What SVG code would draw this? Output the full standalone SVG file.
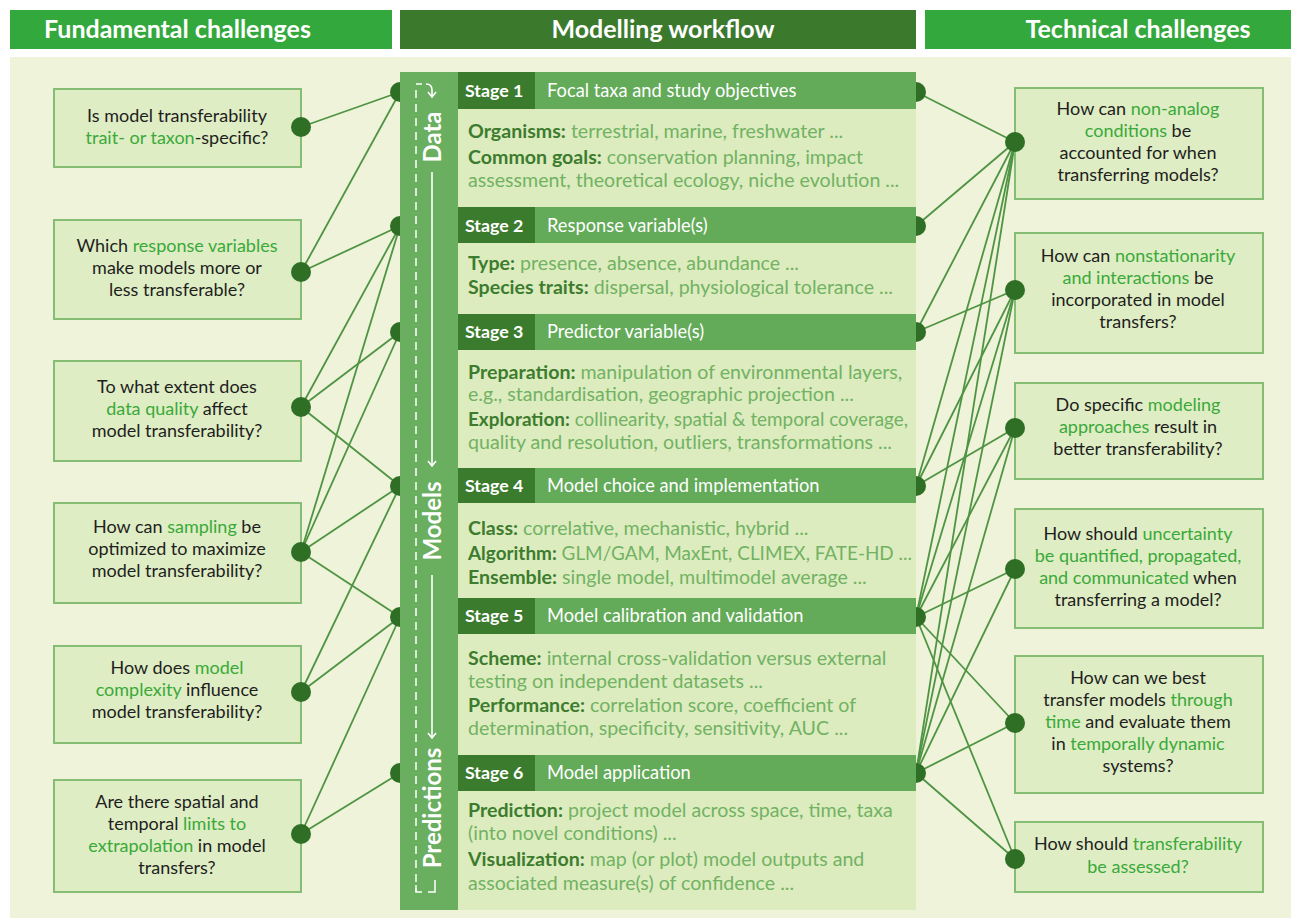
<svg xmlns="http://www.w3.org/2000/svg" width="1301" height="921" viewBox="0 0 1301 921">
<style>
text{font-family:Lato,"Liberation Sans",sans-serif}
.hdr{font-size:25px;font-weight:bold;fill:#fff}
.q{font-size:18px;fill:#1e1e1e;text-anchor:middle}
.g{fill:#3aa93a}
.box{fill:#deedc3;stroke:#86bd74;stroke-width:2}
.sl{fill:#3b7b2d}
.sh{fill:#63aa59}
.st{font-size:17.8px;font-weight:bold;fill:#fff}
.tt{font-size:18.3px;fill:#fff}
.body{fill:#dcecbe}
.bt{font-size:19.6px;fill:#72b264}
.b{font-weight:bold;fill:#3d7c2f}
.cn line{stroke:#4f9443;stroke-width:1.8}
.dot{fill:#2f6f25}
.col{fill:#6aae5f}
.vt{font-size:24px;font-weight:bold;fill:#fff;text-anchor:middle}
</style>
<defs>
<marker id="ahd" markerWidth="10" markerHeight="10" refX="5" refY="7" orient="0" markerUnits="userSpaceOnUse">
<path d="M1,2 L5,7 L9,2" fill="none" stroke="#fff" stroke-width="1.6"/>
</marker>
</defs>
<rect width="1301" height="921" fill="#ffffff"/>
<!-- headers -->
<g id="header-left"><rect x="10" y="10" width="382" height="39" fill="#33a83c"/><text class="hdr" x="44" y="38">Fundamental challenges</text></g>
<g id="header-mid"><rect x="400" y="10" width="516" height="39" fill="#3b7a2c"/><text class="hdr" x="663" y="38" text-anchor="middle">Modelling workflow</text></g>
<g id="header-right"><rect x="925" y="10" width="366" height="39" fill="#33a83c"/><text class="hdr" x="1138" y="38" text-anchor="middle">Technical challenges</text></g>
<rect x="10" y="57" width="1281" height="861" fill="#eef3d9"/>

<!-- connectors -->
<g id="connectors" class="cn">
<line x1="301" y1="127" x2="400" y2="92"/>
<line x1="301" y1="272" x2="400" y2="92"/>
<line x1="301" y1="272" x2="400" y2="226"/>
<line x1="301" y1="407" x2="400" y2="226"/>
<line x1="301" y1="407" x2="400" y2="332"/>
<line x1="301" y1="407" x2="400" y2="486"/>
<line x1="301" y1="552" x2="400" y2="226"/>
<line x1="301" y1="552" x2="400" y2="332"/>
<line x1="301" y1="552" x2="400" y2="486"/>
<line x1="301" y1="552" x2="400" y2="617"/>
<line x1="301" y1="692" x2="400" y2="486"/>
<line x1="301" y1="692" x2="400" y2="617"/>
<line x1="301" y1="834" x2="400" y2="617"/>
<line x1="301" y1="834" x2="400" y2="773"/>

<line x1="916" y1="92" x2="1015" y2="142"/>
<line x1="916" y1="226" x2="1015" y2="142"/>
<line x1="916" y1="332" x2="1015" y2="142"/>
<line x1="916" y1="486" x2="1015" y2="142"/>
<line x1="916" y1="617" x2="1015" y2="142"/>
<line x1="916" y1="773" x2="1015" y2="142"/>
<line x1="916" y1="332" x2="1015" y2="290"/>
<line x1="916" y1="486" x2="1015" y2="290"/>
<line x1="916" y1="617" x2="1015" y2="290"/>
<line x1="916" y1="773" x2="1015" y2="290"/>
<line x1="916" y1="486" x2="1015" y2="428"/>
<line x1="916" y1="617" x2="1015" y2="428"/>
<line x1="916" y1="773" x2="1015" y2="428"/>
<line x1="916" y1="617" x2="1015" y2="569"/>
<line x1="916" y1="773" x2="1015" y2="569"/>
<line x1="916" y1="617" x2="1015" y2="723"/>
<line x1="916" y1="773" x2="1015" y2="723"/>
<line x1="916" y1="617" x2="1015" y2="859"/>
<line x1="916" y1="773" x2="1015" y2="859"/>
</g>
<!-- stage dots (partly behind column) -->
<g id="stage-dots">
<circle class="dot" cx="400" cy="92" r="10"/><circle class="dot" cx="400" cy="226" r="10"/><circle class="dot" cx="400" cy="332" r="10"/><circle class="dot" cx="400" cy="486" r="10"/><circle class="dot" cx="400" cy="617" r="10"/><circle class="dot" cx="400" cy="773" r="10"/>
<circle class="dot" cx="916" cy="92" r="10"/><circle class="dot" cx="916" cy="226" r="10"/><circle class="dot" cx="916" cy="332" r="10"/><circle class="dot" cx="916" cy="486" r="10"/><circle class="dot" cx="916" cy="617" r="10"/><circle class="dot" cx="916" cy="773" r="10"/>
</g>

<!-- workflow column -->
<g id="workflow-bar">
<rect class="col" x="400" y="72" width="58" height="838"/>
<line x1="416" y1="90" x2="416" y2="892" stroke="#fff" stroke-width="1.5" stroke-dasharray="8 6"/>
<path d="M416,84 L422,84" stroke="#fff" stroke-width="1.5" fill="none"/>
<path d="M426,84 Q432,84 432,90 L432,97" stroke="#fff" stroke-width="1.6" fill="none" marker-end="url(#ahd)"/>
<text class="vt" transform="translate(441,137) rotate(-90)">Data</text>
<line x1="432" y1="172" x2="432" y2="466" stroke="#fff" stroke-width="1.6" marker-end="url(#ahd)"/>
<text class="vt" transform="translate(441,521) rotate(-90)">Models</text>
<line x1="432" y1="575" x2="432" y2="738" stroke="#fff" stroke-width="1.6" marker-end="url(#ahd)"/>
<text class="vt" transform="translate(441,808) rotate(-90)">Predictions</text>
<path d="M416,885 L416,892 L422,892 M428,892 L435,892 L435,880" stroke="#fff" stroke-width="1.5" fill="none"/>
</g>

<g id="stage1">
<rect class="sh" x="458" y="72" width="458" height="37"/><rect class="sl" x="458" y="72" width="77" height="37"/>
<text class="st" x="465" y="97">Stage 1</text><text class="tt" x="547" y="97">Focal taxa and study objectives</text>
<rect class="body" x="458" y="109" width="458" height="98"/>
<text class="bt" x="468" y="138"><tspan class="b">Organisms:</tspan> terrestrial, marine, freshwater ...</text>
<text class="bt" x="468" y="164"><tspan class="b">Common goals:</tspan> conservation planning, impact</text>
<text class="bt" x="468" y="187">assessment, theoretical ecology, niche evolution ...</text>
</g>
<g id="stage2">
<rect class="sh" x="458" y="207" width="458" height="36"/><rect class="sl" x="458" y="207" width="77" height="36"/>
<text class="st" x="465" y="232">Stage 2</text><text class="tt" x="547" y="232">Response variable(s)</text>
<rect class="body" x="458" y="243" width="458" height="71"/>
<text class="bt" x="468" y="270"><tspan class="b">Type:</tspan> presence, absence, abundance ...</text>
<text class="bt" x="468" y="294"><tspan class="b">Species traits:</tspan> dispersal, physiological tolerance ...</text>
</g>
<g id="stage3">
<rect class="sh" x="458" y="314" width="458" height="36"/><rect class="sl" x="458" y="314" width="77" height="36"/>
<text class="st" x="465" y="338">Stage 3</text><text class="tt" x="547" y="338">Predictor variable(s)</text>
<rect class="body" x="458" y="350" width="458" height="118"/>
<text class="bt" x="468" y="379"><tspan class="b">Preparation:</tspan> manipulation of environmental layers,</text>
<text class="bt" x="468" y="401">e.g., standardisation, geographic projection ...</text>
<text class="bt" x="468" y="426" textLength="440" lengthAdjust="spacingAndGlyphs"><tspan class="b">Exploration:</tspan> collinearity, spatial &amp; temporal coverage,</text>
<text class="bt" x="468" y="449">quality and resolution, outliers, transformations ...</text>
</g>
<g id="stage4">
<rect class="sh" x="458" y="468" width="458" height="35"/><rect class="sl" x="458" y="468" width="77" height="35"/>
<text class="st" x="465" y="492">Stage 4</text><text class="tt" x="547" y="492">Model choice and implementation</text>
<rect class="body" x="458" y="503" width="458" height="95"/>
<text class="bt" x="468" y="535"><tspan class="b">Class:</tspan> correlative, mechanistic, hybrid ...</text>
<text class="bt" x="468" y="560" textLength="444" lengthAdjust="spacingAndGlyphs"><tspan class="b">Algorithm:</tspan> GLM/GAM, MaxEnt, CLIMEX, FATE-HD ...</text>
<text class="bt" x="468" y="584"><tspan class="b">Ensemble:</tspan> single model, multimodel average ...</text>
</g>
<g id="stage5">
<rect class="sh" x="458" y="598" width="458" height="36"/><rect class="sl" x="458" y="598" width="77" height="36"/>
<text class="st" x="465" y="622">Stage 5</text><text class="tt" x="547" y="622">Model calibration and validation</text>
<rect class="body" x="458" y="634" width="458" height="121"/>
<text class="bt" x="468" y="665"><tspan class="b">Scheme:</tspan> internal cross-validation versus external</text>
<text class="bt" x="468" y="688">testing on independent datasets ...</text>
<text class="bt" x="468" y="712"><tspan class="b">Performance:</tspan> correlation score, coefficient of</text>
<text class="bt" x="468" y="735">determination, specificity, sensitivity, AUC ...</text>
</g>
<g id="stage6">
<rect class="sh" x="458" y="755" width="458" height="36"/><rect class="sl" x="458" y="755" width="77" height="36"/>
<text class="st" x="465" y="779">Stage 6</text><text class="tt" x="547" y="779">Model application</text>
<rect class="body" x="458" y="791" width="458" height="119"/>
<text class="bt" x="468" y="817"><tspan class="b">Prediction:</tspan> project model across space, time, taxa</text>
<text class="bt" x="468" y="840">(into novel conditions) ...</text>
<text class="bt" x="468" y="866"><tspan class="b">Visualization:</tspan> map (or plot) model outputs and</text>
<text class="bt" x="468" y="890">associated measure(s) of confidence ...</text>
</g>

<!-- left boxes -->
<g id="fund1"><rect class="box" x="54" y="89" width="247" height="78"/>
<text class="q" x="177" y="122">Is model transferability</text>
<text class="q" x="177" y="144"><tspan class="g">trait- or taxon</tspan>-specific?</text>
<circle class="dot" cx="301" cy="127" r="10"/></g>
<g id="fund2"><rect class="box" x="54" y="220" width="247" height="99"/>
<text class="q" x="177" y="252">Which <tspan class="g">response variables</tspan></text>
<text class="q" x="177" y="274">make models more or</text>
<text class="q" x="177" y="296">less transferable?</text>
<circle class="dot" cx="301" cy="272" r="10"/></g>
<g id="fund3"><rect class="box" x="54" y="361" width="247" height="100"/>
<text class="q" x="177" y="393">To what extent does</text>
<text class="q" x="177" y="415"><tspan class="g">data quality</tspan> affect</text>
<text class="q" x="177" y="437">model transferability?</text>
<circle class="dot" cx="301" cy="407" r="10"/></g>
<g id="fund4"><rect class="box" x="54" y="503" width="247" height="100"/>
<text class="q" x="177" y="533">How can <tspan class="g">sampling</tspan> be</text>
<text class="q" x="177" y="555">optimized to maximize</text>
<text class="q" x="177" y="577">model transferability?</text>
<circle class="dot" cx="301" cy="552" r="10"/></g>
<g id="fund5"><rect class="box" x="54" y="646" width="247" height="97"/>
<text class="q" x="177" y="674">How does <tspan class="g">model</tspan></text>
<text class="q" x="177" y="696"><tspan class="g">complexity</tspan> influence</text>
<text class="q" x="177" y="718">model transferability?</text>
<circle class="dot" cx="301" cy="692" r="10"/></g>
<g id="fund6"><rect class="box" x="54" y="780" width="247" height="112"/>
<text class="q" x="177" y="808">Are there spatial and</text>
<text class="q" x="177" y="830">temporal <tspan class="g">limits to</tspan></text>
<text class="q" x="177" y="852"><tspan class="g">extrapolation</tspan> in model</text>
<text class="q" x="177" y="874">transfers?</text>
<circle class="dot" cx="301" cy="834" r="10"/></g>

<!-- right boxes -->
<g id="tech1"><rect class="box" x="1015" y="88" width="248" height="111"/>
<text class="q" x="1138" y="115">How can <tspan class="g">non-analog</tspan></text>
<text class="q" x="1138" y="137"><tspan class="g">conditions</tspan> be</text>
<text class="q" x="1138" y="159">accounted for when</text>
<text class="q" x="1138" y="181">transferring models?</text>
<circle class="dot" cx="1015" cy="142" r="10"/></g>
<g id="tech2"><rect class="box" x="1015" y="233" width="248" height="120"/>
<text class="q" x="1138" y="262">How can <tspan class="g">nonstationarity</tspan></text>
<text class="q" x="1138" y="284"><tspan class="g">and interactions</tspan> be</text>
<text class="q" x="1138" y="306">incorporated in model</text>
<text class="q" x="1138" y="328">transfers?</text>
<circle class="dot" cx="1015" cy="290" r="10"/></g>
<g id="tech3"><rect class="box" x="1015" y="383" width="248" height="96"/>
<text class="q" x="1138" y="411">Do specific <tspan class="g">modeling</tspan></text>
<text class="q" x="1138" y="433"><tspan class="g">approaches</tspan> result in</text>
<text class="q" x="1138" y="455">better transferability?</text>
<circle class="dot" cx="1015" cy="428" r="10"/></g>
<g id="tech4"><rect class="box" x="1015" y="509" width="248" height="119"/>
<text class="q" x="1138" y="540">How should <tspan class="g">uncertainty</tspan></text>
<text class="q" x="1138" y="562"><tspan class="g">be quantified, propagated,</tspan></text>
<text class="q" x="1138" y="584"><tspan class="g">and communicated</tspan> when</text>
<text class="q" x="1138" y="606">transferring a model?</text>
<circle class="dot" cx="1015" cy="569" r="10"/></g>
<g id="tech5"><rect class="box" x="1015" y="656" width="248" height="137"/>
<text class="q" x="1138" y="684">How can we best</text>
<text class="q" x="1138" y="706">transfer models <tspan class="g">through</tspan></text>
<text class="q" x="1138" y="728"><tspan class="g">time</tspan> and evaluate them</text>
<text class="q" x="1138" y="750">in <tspan class="g">temporally dynamic</tspan></text>
<text class="q" x="1138" y="772">systems?</text>
<circle class="dot" cx="1015" cy="723" r="10"/></g>
<g id="tech6"><rect class="box" x="1015" y="822" width="248" height="70"/>
<text class="q" x="1138" y="850">How should <tspan class="g">transferability</tspan></text>
<text class="q" x="1138" y="873"><tspan class="g">be assessed?</tspan></text>
<circle class="dot" cx="1015" cy="859" r="10"/></g>
</svg>
